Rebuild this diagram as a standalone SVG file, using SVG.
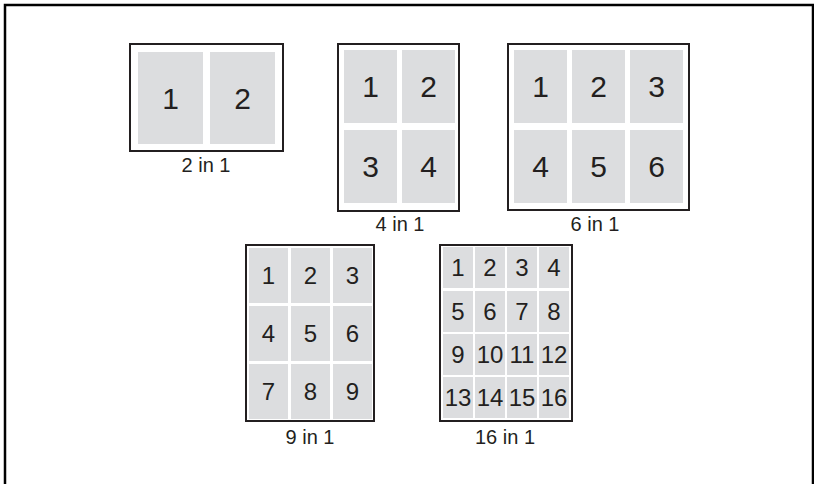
<svg xmlns="http://www.w3.org/2000/svg" width="814" height="484" viewBox="0 0 814 484">
<style>
.frame{fill:none;stroke:#000;stroke-width:2.5}
.box{fill:#fff;stroke:#231f20;stroke-width:2}
.cell{fill:#dcdddf}
text{font-family:"Liberation Sans",Arial,sans-serif;fill:#231f20;text-anchor:middle}
.lbl{font-size:20px}
.d1{font-size:30px}
.d2{font-size:30px}
.d3{font-size:24px}
.d4{font-size:24px}
</style>
<path class="frame" d="M5,484 V5 H813 V484"/>
<g id="n2in1">
<rect class="box" x="130" y="44" width="153" height="107"/>
<rect class="cell" x="138" y="52" width="65" height="92"/>
<rect class="cell" x="210" y="52" width="65" height="92"/>
<text class="d1" x="170.5" y="108.7">1</text>
<text class="d1" x="242.5" y="108.7">2</text>
<text class="lbl" x="206" y="172">2 in 1</text>
</g>
<g id="n4in1">
<rect class="box" x="338" y="44" width="121" height="167"/>
<rect class="cell" x="344" y="50" width="53" height="73"/>
<rect class="cell" x="402" y="50" width="53" height="73"/>
<rect class="cell" x="344" y="130" width="53" height="73"/>
<rect class="cell" x="402" y="130" width="53" height="73"/>
<text class="d2" x="370.5" y="97.2">1</text>
<text class="d2" x="428.5" y="97.2">2</text>
<text class="d2" x="370.5" y="177.2">3</text>
<text class="d2" x="428.5" y="177.2">4</text>
<text class="lbl" x="400" y="231">4 in 1</text>
</g>
<g id="n6in1">
<rect class="box" x="508" y="44" width="181" height="166"/>
<rect class="cell" x="514" y="50" width="53" height="73"/>
<rect class="cell" x="572" y="50" width="53" height="73"/>
<rect class="cell" x="630" y="50" width="53" height="73"/>
<rect class="cell" x="514" y="130" width="53" height="73"/>
<rect class="cell" x="572" y="130" width="53" height="73"/>
<rect class="cell" x="630" y="130" width="53" height="73"/>
<text class="d2" x="540.5" y="97.2">1</text>
<text class="d2" x="598.5" y="97.2">2</text>
<text class="d2" x="656.5" y="97.2">3</text>
<text class="d2" x="540.5" y="177.2">4</text>
<text class="d2" x="598.5" y="177.2">5</text>
<text class="d2" x="656.5" y="177.2">6</text>
<text class="lbl" x="595" y="231">6 in 1</text>
</g>
<g id="n9in1">
<rect class="box" x="246" y="245" width="128" height="176"/>
<rect class="cell" x="249" y="248" width="39" height="55"/>
<rect class="cell" x="291" y="248" width="39" height="55"/>
<rect class="cell" x="333" y="248" width="39" height="55"/>
<rect class="cell" x="249" y="306" width="39" height="55"/>
<rect class="cell" x="291" y="306" width="39" height="55"/>
<rect class="cell" x="333" y="306" width="39" height="55"/>
<rect class="cell" x="249" y="364" width="39" height="55"/>
<rect class="cell" x="291" y="364" width="39" height="55"/>
<rect class="cell" x="333" y="364" width="39" height="55"/>
<text class="d3" x="268.5" y="284">1</text>
<text class="d3" x="310.5" y="284">2</text>
<text class="d3" x="352.5" y="284">3</text>
<text class="d3" x="268.5" y="342">4</text>
<text class="d3" x="310.5" y="342">5</text>
<text class="d3" x="352.5" y="342">6</text>
<text class="d3" x="268.5" y="400">7</text>
<text class="d3" x="310.5" y="400">8</text>
<text class="d3" x="352.5" y="400">9</text>
<text class="lbl" x="310" y="444">9 in 1</text>
</g>
<g id="n16in1">
<rect class="box" x="440" y="245" width="132" height="176"/>
<rect class="cell" x="443" y="247" width="30" height="41"/>
<rect class="cell" x="475" y="247" width="30" height="41"/>
<rect class="cell" x="507" y="247" width="30" height="41"/>
<rect class="cell" x="539" y="247" width="30" height="41"/>
<rect class="cell" x="443" y="291" width="30" height="41"/>
<rect class="cell" x="475" y="291" width="30" height="41"/>
<rect class="cell" x="507" y="291" width="30" height="41"/>
<rect class="cell" x="539" y="291" width="30" height="41"/>
<rect class="cell" x="443" y="334" width="30" height="41"/>
<rect class="cell" x="475" y="334" width="30" height="41"/>
<rect class="cell" x="507" y="334" width="30" height="41"/>
<rect class="cell" x="539" y="334" width="30" height="41"/>
<rect class="cell" x="443" y="377" width="30" height="41"/>
<rect class="cell" x="475" y="377" width="30" height="41"/>
<rect class="cell" x="507" y="377" width="30" height="41"/>
<rect class="cell" x="539" y="377" width="30" height="41"/>
<text class="d4" x="458" y="276">1</text>
<text class="d4" x="490" y="276">2</text>
<text class="d4" x="522" y="276">3</text>
<text class="d4" x="554" y="276">4</text>
<text class="d4" x="458" y="320">5</text>
<text class="d4" x="490" y="320">6</text>
<text class="d4" x="522" y="320">7</text>
<text class="d4" x="554" y="320">8</text>
<text class="d4" x="458" y="363">9</text>
<text class="d4" x="490" y="363">10</text>
<text class="d4" x="522" y="363">11</text>
<text class="d4" x="554" y="363">12</text>
<text class="d4" x="458" y="406">13</text>
<text class="d4" x="490" y="406">14</text>
<text class="d4" x="522" y="406">15</text>
<text class="d4" x="554" y="406">16</text>
<text class="lbl" x="505" y="444">16 in 1</text>
</g>
</svg>
